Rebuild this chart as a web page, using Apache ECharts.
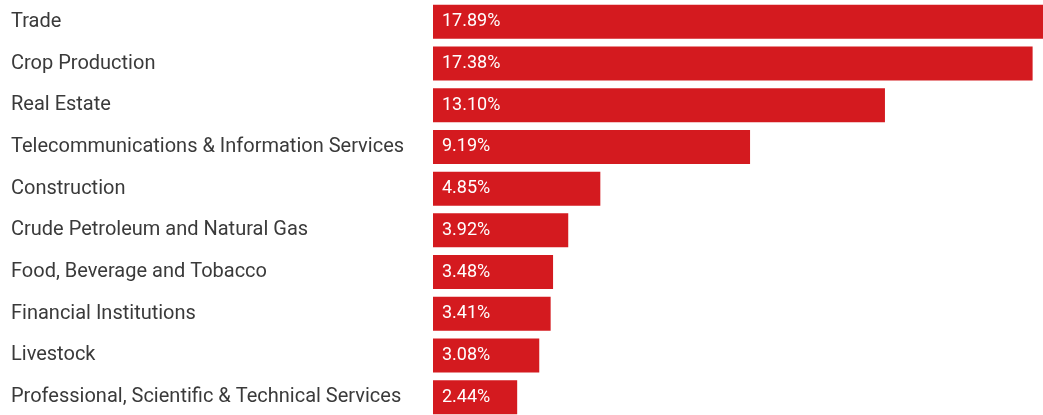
<!DOCTYPE html>
<html>
<head>
<meta charset="utf-8">
<script src="https://cdn.jsdelivr.net/npm/echarts@6/dist/echarts.min.js"></script>
<style>
  html, body { margin: 0; padding: 0; background: #ffffff; }
  #chart { width: 1043px; height: 415px; }
</style>
</head>
<body>
<div id="chart"></div>
<script>
// Sectors, largest share first
const sectors = [
  'Trade',
  'Crop Production',
  'Real Estate',
  'Telecommunications & Information Services',
  'Construction',
  'Crude Petroleum and Natural Gas',
  'Food, Beverage and Tobacco',
  'Financial Institutions',
  'Livestock',
  'Professional, Scientific & Technical Services'
];

// Share of each sector, in percent
const shares = [17.89, 17.38, 13.10, 9.19, 4.85, 3.92, 3.48, 3.41, 3.08, 2.44];

const chart = echarts.init(document.getElementById('chart'));

chart.setOption({
  animation: false,
  backgroundColor: '#ffffff',
  grid: {
    left: 433, right: -11, top: 1, bottom: -3,
    containLabel: false,
    outerBoundsMode: 'none'
  },
  xAxis: {
    type: 'value',
    min: 0,
    max: 18,
    show: false
  },
  yAxis: {
    type: 'category',
    data: sectors,
    inverse: true,
    axisLine: { show: false },
    axisTick: { show: false },
    axisLabel: {
      align: 'left',
      margin: 422,
      color: '#3a3a3a',
      fontFamily: 'Roboto',
      fontSize: 20
    }
  },
  series: [{
    type: 'bar',
    data: shares,
    barCategoryGap: '18.4%',
    itemStyle: { color: '#d41a1f' },
    label: {
      show: true,
      position: 'insideLeft',
      distance: 9,
      color: '#ffffff',
      fontFamily: 'Roboto',
      fontSize: 18,
      formatter: p => p.value.toFixed(2) + '%'
    }
  }]
});
</script>
</body>
</html>
